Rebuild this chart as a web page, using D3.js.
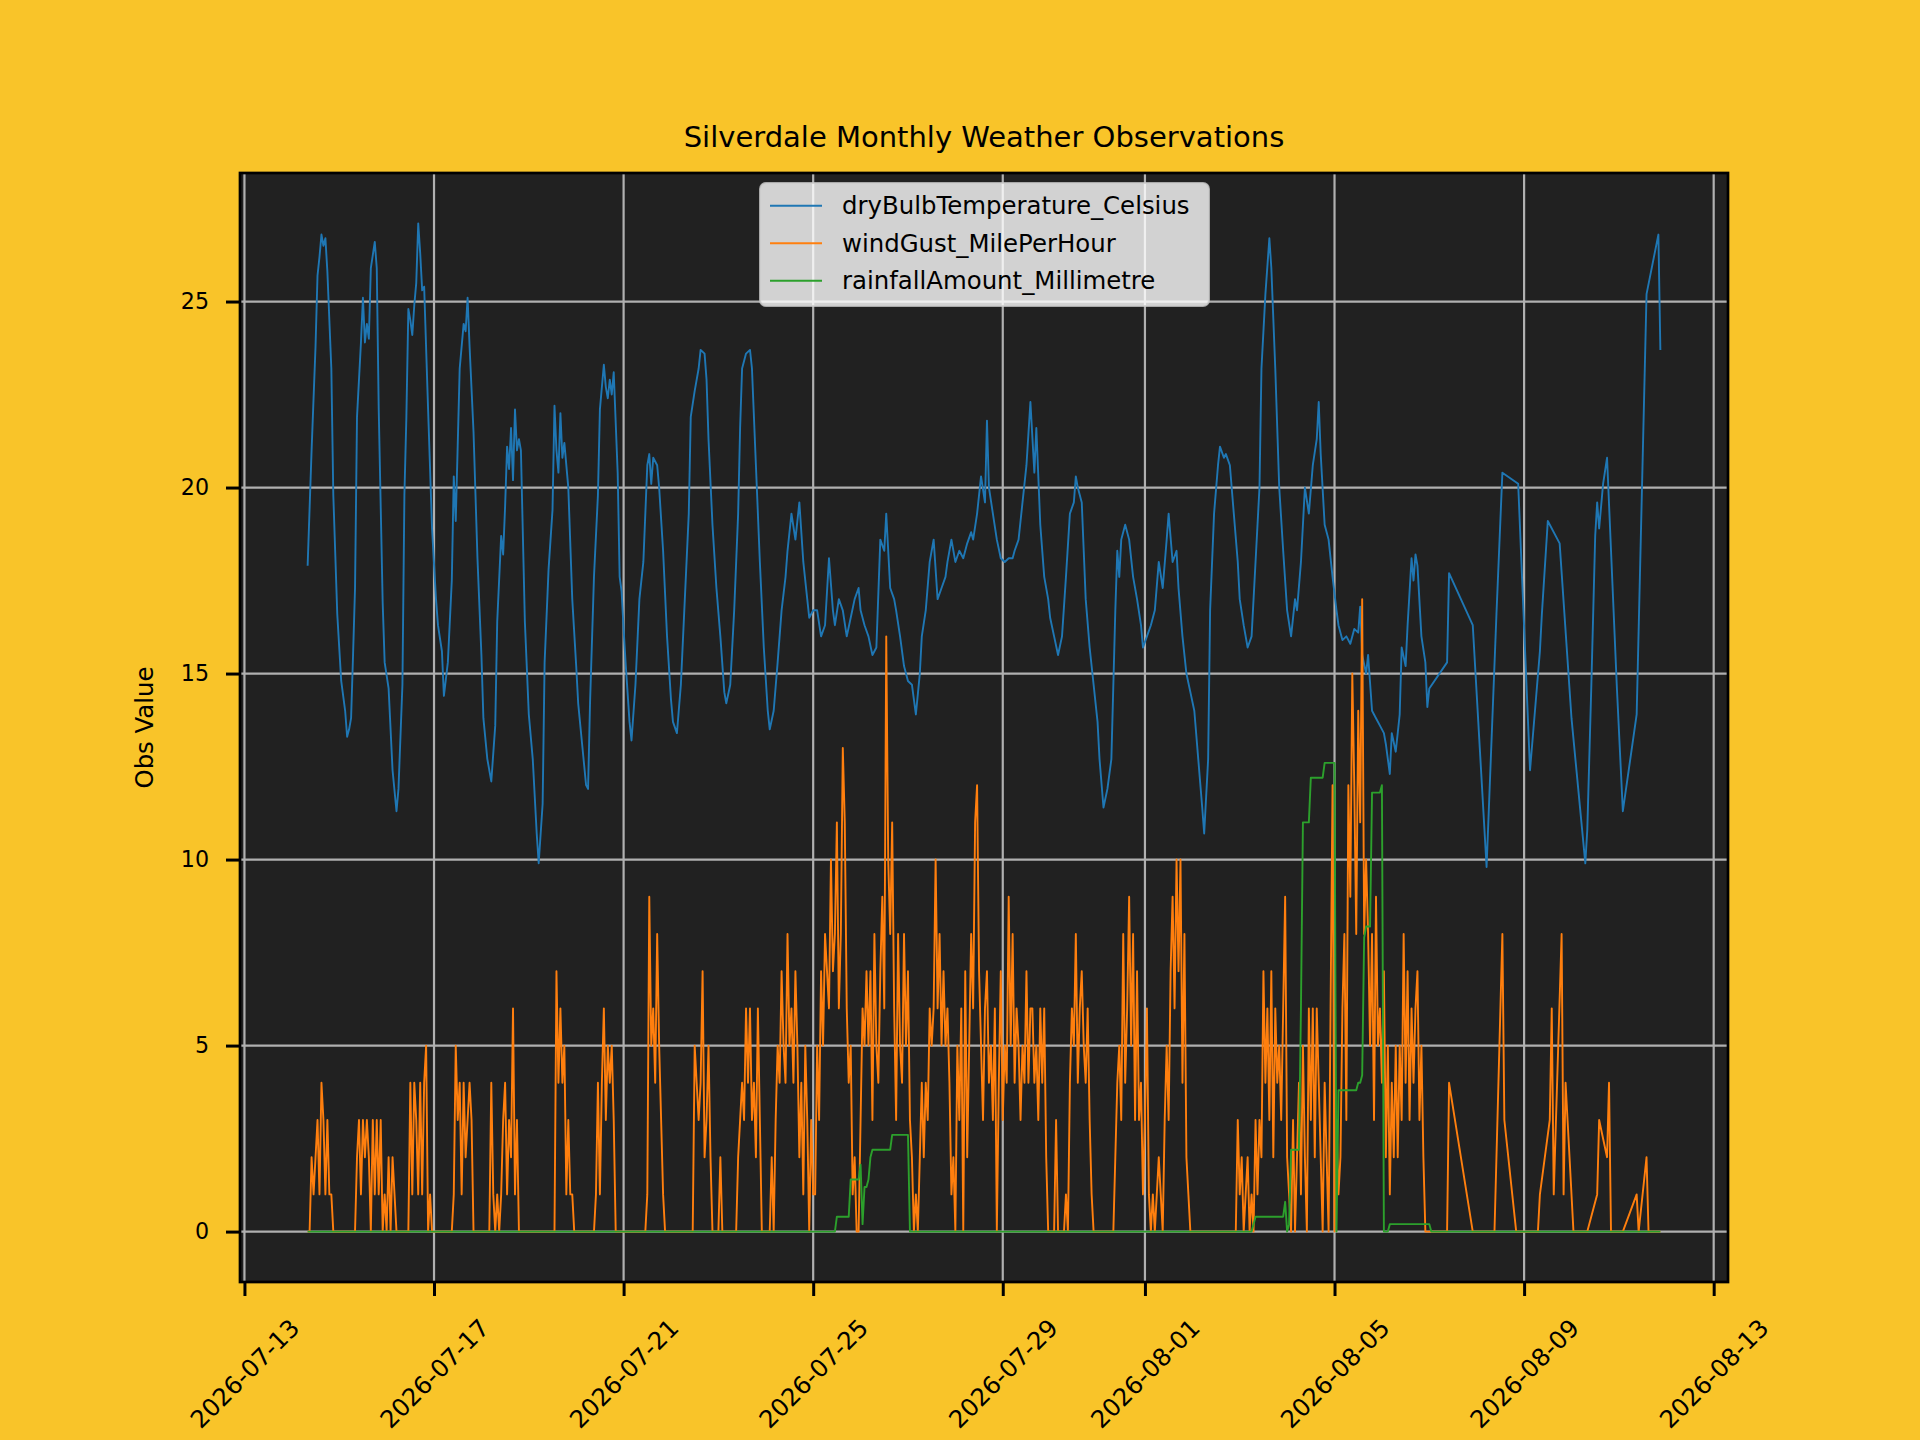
<!DOCTYPE html>
<html>
<head>
<meta charset="utf-8">
<script src="https://cdn.jsdelivr.net/npm/d3@7"></script>
<style>
  html, body { margin: 0; padding: 0; background: #f9c429; }
  svg { display: block; font-family: "DejaVu Sans", sans-serif; }
</style>
</head>
<body>
<svg id="chart" width="1920" height="1440"></svg>
<script>
// Observations as [hours since 2026-07-14 00:00, value]
var tempObs = [[8,17.9],[10,21.0],[12,23.8],[13,25.7],[14,26.2],[15,26.8],[16,26.5],[17,26.7],[18,25.8],[20,23.2],[21,19.8],[23,16.6],[25,14.8],[27,14.0],[28,13.3],[29,13.5],[30,13.8],[31,15.5],[32,17.3],[33,21.9],[35,23.9],[36,25.1],[37,23.9],[38,24.4],[39,24.0],[40,25.9],[42,26.6],[43,25.9],[44,22.1],[46,16.9],[47,15.3],[49,14.6],[51,12.4],[53,11.3],[54,11.9],[56,14.7],[57,19.8],[58,21.9],[59,24.8],[60,24.5],[61,24.1],[62,24.9],[63,25.5],[64,27.1],[65,26.3],[66,25.3],[67,25.4],[69,22.1],[71,18.9],[73,17.0],[74,16.3],[76,15.6],[77,14.4],[79,15.3],[81,17.5],[82,20.3],[83,19.1],[85,23.2],[87,24.4],[88,24.2],[89,25.1],[90,23.8],[92,21.5],[94,18.1],[96,15.5],[97,13.8],[99,12.7],[101,12.1],[103,13.6],[104,16.4],[106,18.7],[107,18.2],[108,19.5],[109,21.1],[110,20.5],[111,21.6],[112,20.2],[113,22.1],[114,21.0],[115,21.3],[116,21.0],[118,16.4],[120,13.9],[122,12.7],[124,10.7],[125,9.9],[127,11.5],[128,15.3],[130,17.8],[132,19.4],[133,22.2],[134,21.0],[135,20.4],[136,22.0],[137,20.8],[138,21.2],[140,20.0],[142,17.0],[144,15.2],[145,14.2],[147,13.1],[149,12.0],[150,11.9],[151,14.2],[153,17.6],[155,19.8],[156,22.1],[158,23.3],[159,22.7],[160,22.4],[161,22.9],[162,22.5],[163,23.1],[165,20.4],[166,17.6],[167,17.2],[168,16.2],[169,15.3],[171,13.7],[172,13.2],[174,14.7],[176,17.0],[178,18.0],[180,20.6],[181,20.9],[182,20.1],[183,20.8],[185,20.6],[186,20.0],[188,18.3],[190,16.0],[192,14.3],[193,13.7],[195,13.4],[197,14.7],[199,17.0],[201,19.3],[202,21.9],[204,22.6],[206,23.2],[207,23.7],[209,23.6],[210,22.9],[211,21.3],[213,19.0],[215,17.3],[217,16.0],[219,14.5],[220,14.2],[222,14.7],[224,16.7],[226,19.3],[227,21.6],[228,23.2],[230,23.6],[232,23.7],[233,23.2],[235,20.6],[237,18.0],[239,15.7],[241,14.0],[242,13.5],[244,14.0],[246,15.3],[248,16.7],[250,17.6],[251,18.3],[253,19.3],[255,18.6],[257,19.6],[259,18.0],[261,17.0],[262,16.5],[264,16.7],[266,16.7],[268,16.0],[270,16.3],[272,18.1],[274,16.7],[275,16.3],[277,17.0],[279,16.7],[281,16.0],[283,16.5],[285,17.0],[287,17.3],[288,16.7],[290,16.3],[292,16.0],[294,15.5],[296,15.7],[298,18.6],[300,18.3],[301,19.3],[303,17.3],[305,17.0],[306,16.7],[308,16.0],[310,15.2],[312,14.8],[314,14.7],[316,13.9],[318,15.0],[319,16.0],[321,16.7],[323,18.0],[325,18.6],[327,17.0],[329,17.3],[331,17.6],[332,18.0],[334,18.6],[336,18.0],[338,18.3],[340,18.1],[342,18.5],[344,18.8],[345,18.6],[347,19.3],[349,20.3],[351,19.6],[352,21.8],[353,20.0],[355,19.3],[357,18.6],[359,18.1],[361,18.0],[363,18.1],[365,18.1],[366,18.3],[368,18.6],[370,19.6],[372,20.6],[374,22.3],[376,20.4],[377,21.6],[379,19.0],[381,17.6],[383,17.0],[384,16.5],[386,16.0],[388,15.5],[390,16.0],[392,17.6],[394,19.3],[396,19.6],[397,20.3],[398,20.0],[400,19.6],[401,18.3],[402,17.0],[404,15.7],[406,14.7],[408,13.7],[409,12.7],[411,11.4],[413,11.9],[415,12.7],[417,16.7],[418,18.3],[419,17.6],[420,18.6],[422,19.0],[424,18.6],[426,17.6],[428,17.0],[430,16.3],[431,15.7],[433,16.0],[435,16.3],[437,16.7],[439,18.0],[441,17.3],[443,18.6],[444,19.3],[446,18.0],[448,18.3],[449,17.3],[451,16.0],[453,15.0],[455,14.5],[457,14.0],[459,12.7],[461,11.4],[462,10.7],[464,12.7],[465,16.7],[467,19.3],[469,20.6],[470,21.1],[472,20.8],[473,20.9],[475,20.6],[477,19.3],[479,18.0],[480,17.0],[482,16.3],[484,15.7],[486,16.0],[488,18.0],[490,20.0],[491,23.2],[493,25.2],[495,26.7],[496,25.9],[498,23.2],[500,20.0],[502,18.3],[504,16.7],[506,16.0],[508,17.0],[509,16.7],[511,18.0],[513,20.0],[515,19.3],[517,20.6],[519,21.3],[520,22.3],[521,20.9],[523,19.0],[525,18.6],[527,17.6],[529,16.7],[530,16.3],[532,15.9],[534,16.0],[536,15.8],[538,16.2],[540,16.1],[541,16.8],[542,15.5],[544,15.0],[545,15.5],[547,14.0],[549,13.8],[551,13.6],[553,13.4],[554,13.1],[556,12.3],[557,13.4],[559,12.9],[561,13.9],[562,15.7],[564,15.2],[565,16.3],[567,18.1],[568,17.5],[569,18.2],[570,17.9],[572,16.0],[574,15.3],[575,14.1],[576,14.6],[585,15.3],[586,17.7],[598,16.3],[605,9.8],[610,16.6],[613,20.4],[621,20.1],[627,12.4],[632,15.6],[633,16.6],[636,19.1],[642,18.5],[648,13.8],[655,9.9],[656,10.8],[658,14.6],[660,18.7],[661,19.6],[662,18.9],[664,20.1],[666,20.8],[671,14.6],[674,11.3],[681,13.9],[686,25.2],[692,26.8],[693,23.7]];

var windObs = [[8,0],[9,0],[10,2],[11,1],[12,2],[13,3],[14,1],[15,4],[16,3],[17,1],[18,3],[19,1],[20,1],[21,0],
  [32,0],[33,2],[34,3],[35,1],[36,3],[37,2],[38,3],[39,2],[40,0],[41,3],[42,1],[43,3],[44,1],[45,3],[46,0],[47,1],[48,0],[49,2],[50,0],[51,2],[52,1],[53,0],
  [59,0],[60,4],[61,1],[62,4],[63,3],[64,1],[65,4],[66,1],[67,4],[68,5],[69,0],[70,1],[71,0],
  [81,0],[82,1],[83,5],[84,3],[85,4],[86,1],[87,4],[88,2],[89,3],[90,4],[91,3],[92,0],
  [100,0],[101,4],[102,1],[103,0],[104,1],[105,0],[106,1],[107,3],[108,4],[109,1],[110,3],[111,2],[112,6],[113,1],[114,3],[115,0],
  [133,0],[134,7],[135,4],[136,6],[137,4],[138,5],[139,1],[140,3],[141,1],[142,1],[143,0],
  [153,0],[154,1],[155,4],[156,1],[157,4],[158,6],[159,3],[160,5],[161,4],[162,5],[163,3],[164,0],
  [179,0],[180,1],[181,9],[182,5],[183,6],[184,4],[185,8],[186,5],[187,3],[188,1],[189,0],
  [203,0],[204,5],[205,4],[206,3],[207,4],[208,7],[209,2],[210,3],[211,5],[212,2],[213,0],[216,0],[217,2],[218,0],
  [225,0],[226,2],[227,3],[228,4],[229,3],[230,6],[231,4],[232,6],[233,3],[234,4],[235,2],[236,6],[237,3],[238,0],
  [242,0],[243,2],[244,0],[245,3],[246,5],[247,4],[248,7],[249,5],[250,4],[251,8],[252,5],[253,6],[254,4],[255,7],[256,5],[257,2],[258,4],[259,1],[260,5],[261,3],[262,0],[263,3],[264,1],
  [265,1],[266,5],[267,3],[268,7],[269,5],[270,8],[271,7],[272,6],[273,10],[274,7],[275,8],[276,11],[277,6],[278,8],[279,13],[280,11],[281,6],[282,4],[283,5],[284,1],[285,2],[286,0],[287,0],
  [288,3],[289,6],[290,5],[291,7],[292,5],[293,7],[294,3],[295,8],[296,5],[297,4],[298,7],[299,9],[300,6],[301,16],[302,10],[303,8],[304,11],[305,6],[306,3],[307,8],[308,5],[309,4],[310,8],[311,5],[312,7],[313,3],[314,2],[315,0],
  [316,1],[317,0],[318,2],[319,4],[320,2],[321,4],[322,3],[323,6],[324,5],[325,6],[326,10],[327,6],[328,8],[329,5],[330,7],[331,5],[332,6],[333,4],[334,1],[335,2],[336,0],[337,5],[338,3],[339,6],[340,0],[341,7],[342,2],[343,5],[344,8],[345,6],[346,11],[347,12],[348,7],[349,5],[350,3],[351,6],[352,7],[353,4],[354,5],[355,3],[356,6],[357,0],[358,4],[359,7],[360,3],[361,5],[362,4],[363,9],[364,5],[365,8],[366,4],[367,6],[368,5],[369,3],[370,5],[371,4],[372,7],[373,4],[374,6],[375,6],[376,4],[377,5],[378,3],[379,6],[380,4],[381,6],[382,2],[383,0],[386,0],[387,3],[388,0],[391,0],[392,1],[393,0],[394,4],[395,6],[396,5],[397,8],[398,4],[399,6],[400,7],[401,5],[402,4],[403,6],[404,3],[405,1],[406,0],
  [416,0],[417,2],[418,4],[419,5],[420,3],[421,8],[422,4],[423,6],[424,9],[425,5],[426,8],[427,3],[428,7],[429,3],[430,4],[431,1],[432,3],[433,6],[434,1],[435,0],[436,1],[437,0],[438,1],[439,2],[440,1],[441,0],[442,3],[443,5],[444,3],[445,7],[446,9],[447,6],[448,10],[449,7],[450,10],[451,4],[452,8],[453,2],[454,1],[455,0],
  [478,0],[479,3],[480,1],[481,2],[482,0],[483,1],[484,2],[485,0],[486,1],[487,0],[488,3],[489,1],[490,3],[491,2],[492,7],[493,4],[494,6],[495,3],[496,7],[497,2],[498,6],[499,4],[500,5],[501,3],[502,6],[503,9],[504,2],[505,1],[506,0],[507,3],[508,0],[509,2],[510,4],[511,1],[512,5],[513,2],[514,0],[515,6],[516,3],[517,6],[518,2],[519,6],[520,4],[521,2],[522,0],[523,4],[524,2],[525,0],[526,6],[527,12],[528,0],[529,3],[530,1],
  [531,2],[532,6],[533,8],[534,3],[535,12],[536,9],[537,15],[538,12],[539,8],[540,14],[541,11],[542,17],[543,8],[544,10],[545,8],[546,5],[547,8],[548,3],[549,9],[550,5],[551,6],[552,4],[553,7],[554,2],[555,5],[556,1],[557,4],[558,2],[559,5],[560,2],[561,5],[562,3],[563,8],[564,4],[565,7],[566,3],[567,6],[568,4],[569,6],[570,7],[571,3],[572,5],[573,2],[574,0],
  [585,0],[586,4],[598,0],[609,0],[613,8],[614,3],[620,0],[631,0],[632,1],[637,3],[638,6],[639,1],[643,8],[644,1],[645,4],[649,0],[656,0],[661,1],[662,3],[666,2],[667,4],[668,0],[674,0],[681,1],[682,0],[686,2],[687,0],[693,0]];

var rainObs = [[8,0],[275,0],[276,0.4],[282,0.4],[283,1.4],[287,1.4],[288,1.8],[289,0.2],[290,1.2],[291,1.2],[292,1.4],[293,2.0],[294,2.2],[303,2.2],[304,2.6],[312,2.6],[313,0],
  [486,0],[487,0.2],[488,0.4],[502,0.4],[503,0.8],[504,0],[505,0.2],[506,2.2],[510,2.2],[511,6.0],[512,11.0],[515,11.0],[516,12.2],[522,12.2],[523,12.6],[528,12.6],[529,0],
  [530,3.8],[539,3.8],[540,4.0],[541,4.0],[542,4.2],[543,7.9],[544,8.2],[546,8.2],[547,11.8],[551,11.8],[552,12.0],[553,0],[555,0],[556,0.2],[576,0.2],[577,0],[693,0]];

var seriesNames = ["dryBulbTemperature_Celsius", "windGust_MilePerHour", "rainfallAmount_Millimetre"];
var seriesColors = ["#1f77b4", "#ff7f0e", "#2ca02c"];
var xTickDates = ["2026-07-13", "2026-07-17", "2026-07-21", "2026-07-25", "2026-07-29", "2026-08-01", "2026-08-05", "2026-08-09", "2026-08-13"];
var yTickValues = [0, 5, 10, 15, 20, 25];
var chartTitle = "Silverdale Monthly Weather Observations";
var yAxisLabel = "Obs Value";

var svg = d3.select("#chart");
var plot = { left: 240, right: 1728, top: 173, bottom: 1282 };

var start = new Date(2026, 6, 14);
function toDate(h) { return new Date(start.getTime() + h * 3600 * 1000); }
var parseDay = d3.timeParse("%Y-%m-%d");
var formatDay = d3.timeFormat("%Y-%m-%d");

var series = [tempObs, windObs, rainObs];
var allObs = d3.merge(series);

// 5% margins like matplotlib autoscale
var hExt = d3.extent(allObs, function (d) { return d[0]; });
var vExt = d3.extent(allObs, function (d) { return d[1]; });
var hPad = (hExt[1] - hExt[0]) * 0.05;
var vPad = (vExt[1] - vExt[0]) * 0.05;

var x = d3.scaleTime()
    .domain([toDate(hExt[0] - hPad), toDate(hExt[1] + hPad)])
    .range([plot.left, plot.right]);
var y = d3.scaleLinear()
    .domain([vExt[0] - vPad, vExt[1] + vPad])
    .range([plot.bottom, plot.top]);

// Axes background
svg.append("rect")
    .attr("x", plot.left).attr("y", plot.top)
    .attr("width", plot.right - plot.left).attr("height", plot.bottom - plot.top)
    .style("fill", "#212121");

// Grid
var xTicks = xTickDates.map(parseDay);
var grid = svg.append("g").attr("class", "grid");
grid.selectAll(".vgrid").data(xTicks).enter().append("line")
    .attr("x1", function (d) { return x(d); }).attr("x2", function (d) { return x(d); })
    .attr("y1", plot.top).attr("y2", plot.bottom)
    .style("stroke", "#b0b0b0").style("stroke-width", 2.2);
grid.selectAll(".hgrid").data(yTickValues).enter().append("line")
    .attr("x1", plot.left).attr("x2", plot.right)
    .attr("y1", function (d) { return y(d); }).attr("y2", function (d) { return y(d); })
    .style("stroke", "#b0b0b0").style("stroke-width", 2.2);

// Series lines
var line = d3.line()
    .x(function (d) { return x(toDate(d[0])); })
    .y(function (d) { return y(d[1]); });

svg.append("g").attr("class", "series")
    .selectAll("path").data(series).enter().append("path")
    .attr("d", line)
    .style("fill", "none")
    .style("stroke", function (d, i) { return seriesColors[i]; })
    .style("stroke-width", 1.9)
    .style("stroke-linejoin", "round");

// Spines
svg.append("rect")
    .attr("x", plot.left).attr("y", plot.top)
    .attr("width", plot.right - plot.left).attr("height", plot.bottom - plot.top)
    .style("fill", "none").style("stroke", "#000").style("stroke-width", 2.7);

// X axis
var xAxis = svg.append("g")
    .attr("transform", "translate(0," + plot.bottom + ")")
    .call(d3.axisBottom(x).tickValues(xTicks).tickFormat(formatDay).tickSize(14).tickSizeOuter(0));
xAxis.select(".domain").remove();
xAxis.selectAll(".tick line").style("stroke", "#000").style("stroke-width", 3);
var xFont = 24.4;
xAxis.selectAll(".tick text")
    .style("font-family", "DejaVu Sans").style("font-size", xFont + "px").style("fill", "#000")
    .attr("text-anchor", "middle").attr("dominant-baseline", "central")
    .attr("y", 0).attr("dy", null)
    .attr("transform", function () {
        var len = this.getComputedTextLength();
        var boxH = (len + xFont) * Math.SQRT1_2;
        return "translate(0," + (33 + boxH / 2) + ") rotate(-45)";
    });

// Y axis
var yAxis = svg.append("g")
    .attr("transform", "translate(" + plot.left + ",0)")
    .call(d3.axisLeft(y).tickValues(yTickValues).tickSize(14).tickSizeOuter(0).tickPadding(17));
yAxis.select(".domain").remove();
yAxis.selectAll(".tick line").style("stroke", "#000").style("stroke-width", 3);
yAxis.selectAll(".tick text")
    .style("font-family", "DejaVu Sans").style("font-size", "22.2px").style("fill", "#000");

// Y label
svg.append("text")
    .attr("transform", "translate(153," + ((plot.top + plot.bottom) / 2) + ") rotate(-90)")
    .attr("text-anchor", "middle")
    .style("font-size", "24.4px").style("fill", "#000")
    .text(yAxisLabel);

// Title
svg.append("text")
    .attr("x", (plot.left + plot.right) / 2).attr("y", 147)
    .attr("text-anchor", "middle")
    .style("font-size", "29px").style("fill", "#000")
    .text(chartTitle);

// Legend
var legend = svg.append("g").attr("class", "legend").attr("transform", "translate(760,183)");
legend.append("rect")
    .attr("width", 449).attr("height", 123).attr("rx", 6)
    .style("fill", "#fff").style("fill-opacity", 0.8)
    .style("stroke", "#ccc").style("stroke-opacity", 0.8).style("stroke-width", 2);
var items = legend.selectAll(".item").data(seriesNames).enter().append("g")
    .attr("transform", function (d, i) { return "translate(0," + (22.7 + i * 37.5) + ")"; });
items.append("line")
    .attr("x1", 10).attr("x2", 62)
    .style("stroke", function (d, i) { return seriesColors[i]; })
    .style("stroke-width", 2);
items.append("text")
    .attr("x", 82).attr("y", 8.6)
    .style("font-size", "24.4px").style("fill", "#000")
    .text(function (d) { return d; });
</script>
</body>
</html>
